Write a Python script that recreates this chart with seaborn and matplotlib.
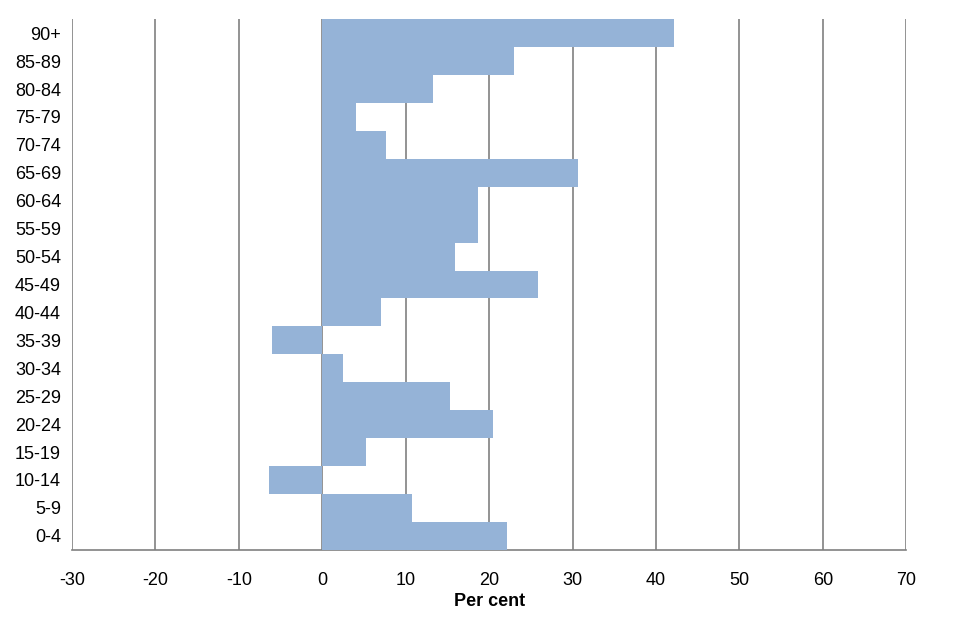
import pandas as pd
import matplotlib
matplotlib.use('Agg')
import matplotlib.pyplot as plt
import seaborn as sns

# Age bands, top to bottom as shown on the chart
age_bands = ['90+', '85-89', '80-84', '75-79', '70-74', '65-69', '60-64', '55-59',
             '50-54', '45-49', '40-44', '35-39', '30-34', '25-29', '20-24',
             '15-19', '10-14', '5-9', '0-4']
per_cent = [42.2, 23.0, 13.3, 4.0, 7.6, 30.7, 18.7, 18.7,
            15.9, 25.8, 7.0, -6.0, 2.5, 15.3, 20.5,
            5.3, -6.4, 10.8, 22.2]
x_ticks = [-30, -20, -10, 0, 10, 20, 30, 40, 50, 60, 70]

df = pd.DataFrame({'age': age_bands, 'pct': per_cent})

sns.set_style('white')
plt.rcParams['font.family'] = ['Liberation Sans', 'DejaVu Sans']

fig, ax = plt.subplots(figsize=(9.6, 6.4), dpi=100)
fig.subplots_adjust(left=0.075, right=0.944, top=0.970, bottom=0.141)

sns.barplot(data=df, x='pct', y='age', order=age_bands, orient='h',
            color='#95B3D7', saturation=1, width=1.0,
            linewidth=0, ax=ax, zorder=3)

ax.set_xlim(-30, 70)
ax.set_xticks(x_ticks)
ax.set_xticklabels([str(t) for t in x_ticks])
ax.set_ylim(len(age_bands) - 0.5, -0.5)

# vertical gridlines
for t in x_ticks:
    ax.axvline(t, color='#808080', linewidth=1.2, zorder=1)

for s in ['top', 'right', 'left']:
    ax.spines[s].set_visible(False)
ax.spines['bottom'].set_color('#808080')
ax.spines['bottom'].set_linewidth(1.2)

ax.tick_params(axis='x', direction='out', length=6, width=1.2, color='#808080',
               labelsize=13, labelcolor='black', pad=10)
ax.tick_params(axis='y', length=0, labelsize=13, labelcolor='black', pad=8)

ax.set_xlabel('Per cent', fontsize=13, fontweight='bold', color='black', labelpad=3)
ax.set_ylabel('')

fig.savefig('out.png', dpi=100)
